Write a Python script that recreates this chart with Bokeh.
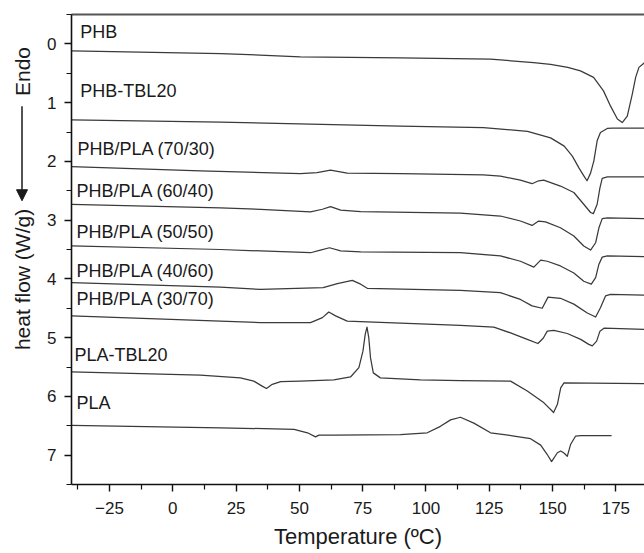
from bokeh.plotting import figure
from bokeh.layouts import row
from bokeh.models import Range1d, FixedTicker, Label, Arrow, NormalHead, ColumnDataSource, LinearAxis
from bokeh.embed import file_html
from bokeh.resources import INLINE
from bokeh.core.properties import value

# ---- data (Temperature in C, heat flow offset in W/g) ----
phb_x = [-40, 19, 50.4, 89.9, 125.5, 142.5, 149.2, 156, 161.0, 166.2, 170.1, 172.9, 175.6, 177.5, 179.5, 181.5, 182.8, 184.1, 186.3]
phb_y = [0.12, 0.165, 0.22, 0.24, 0.26, 0.32, 0.35, 0.40, 0.46, 0.57, 0.80, 1.06, 1.28, 1.34, 1.23, 0.85, 0.57, 0.40, 0.32]

phbtbl_x = [-40, 18.8, 89.9, 122.7, 140.1, 149.2, 154.6, 157.8, 160.4, 162.4, 163.6, 165.0, 166.3, 167.6, 168.9, 171.6, 173.7, 186.3]
phbtbl_y = [1.295, 1.33, 1.40, 1.425, 1.49, 1.60, 1.74, 1.91, 2.11, 2.25, 2.33, 2.20, 1.99, 1.65, 1.51, 1.44, 1.435, 1.435]

b7030_x = [-40, 10.9, 50.4, 57.0, 62.3, 68.9, 89.9, 122.7, 129.4, 137.3, 141.9, 144.5, 146.5, 153.1, 158.4, 162.3, 165.0, 166.1, 167.6, 168.7, 169.6, 171.6, 186.3]
b7030_y = [2.09, 2.16, 2.21, 2.19, 2.15, 2.20, 2.21, 2.23, 2.25, 2.32, 2.38, 2.33, 2.32, 2.42, 2.53, 2.73, 2.87, 2.89, 2.73, 2.45, 2.29, 2.265, 2.265]

b6040_x = [-40, 18.8, 34.7, 54.4, 59.1, 62.3, 66.3, 74.2, 113.6, 129.4, 137.3, 141.9, 144.5, 147.2, 153.1, 158.4, 162.3, 165.0, 167.0, 168.3, 169.6, 171.6, 186.3]
b6040_y = [2.73, 2.79, 2.815, 2.86, 2.815, 2.77, 2.83, 2.855, 2.88, 2.93, 3.015, 3.09, 3.015, 3.03, 3.13, 3.27, 3.44, 3.51, 3.385, 3.13, 2.975, 2.96, 2.975]

b5050_x = [-40, 18.8, 34.7, 54.4, 58.3, 61.9, 66.3, 74.2, 113.6, 129.4, 137.3, 142.6, 145.3, 147.9, 153.1, 158.4, 162.3, 165.3, 167.0, 168.3, 169.6, 171.6, 186.3]
b5050_y = [3.44, 3.50, 3.525, 3.555, 3.51, 3.47, 3.525, 3.54, 3.555, 3.61, 3.70, 3.80, 3.68, 3.70, 3.78, 3.90, 4.04, 4.09, 3.98, 3.75, 3.63, 3.61, 3.62]

b4060_x = [-40, 18.8, 34.7, 59.4, 65.0, 70.9, 74.2, 76.8, 113.6, 129.4, 137.3, 141.9, 145.9, 148.2, 153.1, 158.4, 163.7, 167.0, 168.9, 170.9, 172.9, 186.3]
b4060_y = [4.065, 4.14, 4.18, 4.15, 4.08, 4.025, 4.09, 4.16, 4.195, 4.235, 4.35, 4.46, 4.50, 4.31, 4.33, 4.43, 4.58, 4.65, 4.49, 4.29, 4.265, 4.275]

b3070_x = [-40, 18.8, 34.7, 54.4, 59.1, 61.6, 64.3, 68.9, 113.6, 126.8, 133.4, 140.0, 144.2, 146.3, 147.9, 150.5, 155.8, 161.1, 164.3, 165.7, 167.4, 168.7, 170.3, 186.3]
b3070_y = [4.63, 4.72, 4.745, 4.745, 4.66, 4.565, 4.63, 4.72, 4.79, 4.82, 4.92, 5.03, 5.10, 5.01, 4.89, 4.875, 4.93, 5.03, 5.115, 5.14, 5.06, 4.89, 4.84, 4.86]

platbl_x = [-40, 10.9, 26.7, 32.0, 35.3, 37.0, 39.3, 42.6, 50.4, 63.6, 70.2, 73.5, 75.1, 76.0, 76.7, 77.4, 78.1, 79.2, 82.0, 97.8, 113.6, 133.4, 140.0, 146.6, 150.4, 151.9, 153.2, 154.5, 186.3]
platbl_y = [5.585, 5.64, 5.685, 5.74, 5.825, 5.865, 5.795, 5.75, 5.74, 5.72, 5.67, 5.51, 5.23, 4.945, 4.82, 5.00, 5.345, 5.60, 5.685, 5.72, 5.73, 5.74, 5.91, 6.11, 6.275, 6.135, 5.855, 5.77, 5.785]

pla_x = [-40, 18.8, 47.9, 53.2, 56.4, 57.7, 63.7, 89.9, 100.5, 105.7, 109.7, 113.6, 118.9, 125.5, 134.8, 141.3, 145.3, 147.9, 149.6, 151.9, 153.2, 154.5, 155.8, 157.1, 159.1, 161.1, 173.3]
pla_y = [6.495, 6.535, 6.56, 6.62, 6.69, 6.66, 6.66, 6.65, 6.62, 6.51, 6.40, 6.355, 6.455, 6.62, 6.675, 6.72, 6.83, 6.99, 7.11, 6.96, 6.93, 6.965, 7.02, 6.82, 6.675, 6.67, 6.67]

curve_names = ["PHB", "PHB-TBL20", "PHB/PLA (70/30)", "PHB/PLA (60/40)", "PHB/PLA (50/50)",
               "PHB/PLA (40/60)", "PHB/PLA (30/70)", "PLA-TBL20", "PLA"]
label_x = [-36.5, -36.5, -37.6, -38.0, -38.0, -38.0, -38.0, -38.8, -38.0]
label_y = [-0.21, 0.80, 1.79, 2.50, 3.20, 3.87, 4.335, 5.30, 6.11]

x_major = [-25, 0, 25, 50, 75, 100, 125, 150, 175]
x_minor = [-37.5, -12.5, 12.5, 37.5, 62.5, 87.5, 112.5, 137.5, 162.5, 187.5]
y_major = [0, 1, 2, 3, 4, 5, 6, 7]
y_minor = [-0.5, 0.5, 1.5, 2.5, 3.5, 4.5, 5.5, 6.5, 7.5]

X_RANGE = (-40.0, 186.3)
Y_RANGE = (7.5, -0.5)

FONT = "Liberation Sans"
LINE = "#3a3a3a"
TEXT = "#1a1a1a"

W, H = 644, 553
LW = 40  # width of the strip that carries the rotated y-axis title

y_range = Range1d(*Y_RANGE)

# ---- strip for the y-axis title (shares the plot's vertical scale; frames are aligned) ----
lf = figure(width=LW, height=H, output_backend="svg", toolbar_location=None,
            x_range=Range1d(0, LW), y_range=y_range,
            x_axis_type=None, y_axis_type=None,
            min_border_left=0, min_border_right=0, min_border_top=14, min_border_bottom=69)
lf.outline_line_color = None
lf.grid.visible = False
lf.add_layout(Label(x=21.5, y=0.47, text="Endo", angle=90, angle_units="deg",
                    text_font=FONT, text_font_size="21px", text_color=TEXT,
                    text_align="center", text_baseline="middle"))
lf.add_layout(Label(x=21.5, y=4.01, text="heat flow (W/g)", angle=90, angle_units="deg",
                    text_font=FONT, text_font_size="21px", text_color=TEXT,
                    text_align="center", text_baseline="middle"))
lf.add_layout(Arrow(end=NormalHead(size=11, fill_color=TEXT, line_color=TEXT),
                    x_start=21.5, y_start=1.06, x_end=21.5, y_end=2.67,
                    line_color=TEXT, line_width=1.5))

# ---- main plot ----
p = figure(width=W - LW, height=H, output_backend="svg", toolbar_location=None,
           x_range=Range1d(*X_RANGE), y_range=y_range,
           min_border_left=71 - LW, min_border_right=0, min_border_top=14, min_border_bottom=69)
p.outline_line_color = None
p.grid.visible = False
p.background_fill_color = "white"
p.border_fill_color = "white"

curves = [(phb_x, phb_y), (phbtbl_x, phbtbl_y), (b7030_x, b7030_y), (b6040_x, b6040_y),
          (b5050_x, b5050_y), (b4060_x, b4060_y), (b3070_x, b3070_y), (platbl_x, platbl_y),
          (pla_x, pla_y)]
for cx, cy in curves:
    p.line(cx, cy, line_color=LINE, line_width=1.25, line_join="round")

src = ColumnDataSource(dict(x=label_x, y=label_y, t=curve_names))
p.text(x="x", y="y", text="t", source=src, text_font=value(FONT), text_font_size="18px",
       text_color=TEXT, text_baseline="middle", text_align="left")

# top border line
top = LinearAxis(ticker=FixedTicker(ticks=[], minor_ticks=[]), axis_line_color="#555555",
                 axis_line_width=2, major_tick_line_color=None, minor_tick_line_color=None,
                 major_label_text_font_size="0px", major_label_standoff=0)
p.add_layout(top, "above")

xa = p.below[0]
ya = p.left[0]
for ax in (xa, ya):
    ax.axis_line_color = "#111111"
    ax.axis_line_width = 1.6
    ax.major_tick_line_color = "#111111"
    ax.minor_tick_line_color = "#111111"
    ax.major_tick_line_width = 1.4
    ax.minor_tick_line_width = 1.2
    ax.major_tick_out = 7
    ax.major_tick_in = 0
    ax.minor_tick_out = 5
    ax.minor_tick_in = 0
    ax.major_label_text_font = FONT
    ax.major_label_text_font_size = "17px"
    ax.major_label_text_color = TEXT

xa.ticker = FixedTicker(ticks=x_major, minor_ticks=x_minor)
xa.major_label_standoff = 10
xa.axis_label = "Temperature (ºC)"
xa.axis_label_text_font = FONT
xa.axis_label_text_font_size = "22px"
xa.axis_label_text_font_style = "normal"
xa.axis_label_text_color = TEXT
xa.axis_label_standoff = 7

ya.ticker = FixedTicker(ticks=y_major, minor_ticks=y_minor)
ya.major_label_standoff = 8

open("out.html", "w").write(file_html(row(lf, p), INLINE))
